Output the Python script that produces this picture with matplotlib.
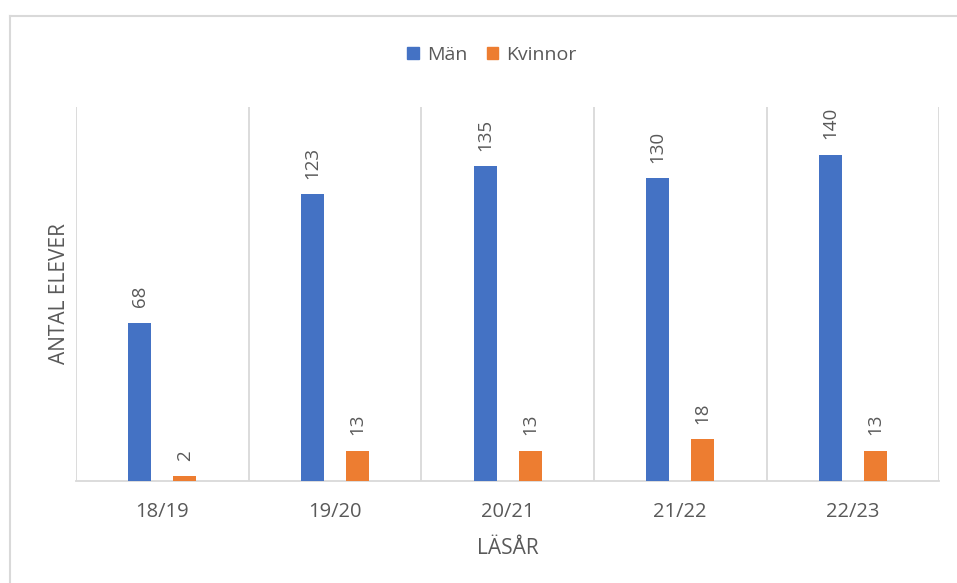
import matplotlib
matplotlib.use("Agg")
import matplotlib.pyplot as plt
from matplotlib.lines import Line2D
from matplotlib.patches import Patch
import numpy as np

categories = ["18/19", "19/20", "20/21", "21/22", "22/23"]
man = [68, 123, 135, 130, 140]
kvinnor = [2, 13, 13, 18, 13]
series_names = ["Män", "Kvinnor"]

plt.rcParams['font.family'] = ['Open Sans', 'DejaVu Sans']

blue = "#4472C4"
orange = "#ED7D31"
grid = "#D9D9D9"
txt = "#595959"

fig = plt.figure(figsize=(9.57, 5.83), dpi=100)
ax = fig.add_axes([0.0794, 0.175, 0.902, 0.6415])

x = np.arange(len(categories))
w = 0.133
off = 0.13
b1 = ax.bar(x - off, man, width=w, color=blue, zorder=3)
b2 = ax.bar(x + off, kvinnor, width=w, color=orange, zorder=3)

for bars, vals in ((b1, man), (b2, kvinnor)):
    for r, v in zip(bars, vals):
        ax.annotate(str(v), (r.get_x() + r.get_width() / 2, r.get_height()),
                    xytext=(0, 11), textcoords="offset points",
                    rotation=90, ha="center", va="bottom",
                    color=txt, fontsize=13.5)

ax.set_xlim(-0.5, len(categories) - 0.5)
ax.set_ylim(0, 160.5)
for b in np.arange(-0.5, len(categories), 1.0):
    ax.axvline(b, color=grid, lw=1.3, zorder=1)

for s in ["top", "right", "left"]:
    ax.spines[s].set_visible(False)
ax.spines["bottom"].set_color(grid)
ax.spines["bottom"].set_linewidth(1.3)
ax.set_yticks([])
ax.set_xticks(x)
ax.set_xticklabels(categories, fontsize=14.5, color=txt)
ax.tick_params(axis="x", length=0, pad=15)

ax.set_xlabel("LÄSÅR", fontsize=15, color=txt, labelpad=12)
ax.set_ylabel("ANTAL ELEVER", fontsize=15, color=txt, labelpad=4)

handles = [Patch(color=blue), Patch(color=orange)]
fig.legend(handles, series_names, loc="center", bbox_to_anchor=(0.514, 0.906),
           ncol=2, frameon=False, fontsize=14, labelcolor=txt,
           handlelength=0.6, handleheight=0.6, handletextpad=0.4,
           columnspacing=1.0)

# chart-area border (left and top edges visible)
fig.add_artist(Line2D([9.5 / 957, 9.5 / 957], [0, 1 - 16 / 583], color=grid, lw=1.5,
                      transform=fig.transFigure))
fig.add_artist(Line2D([9.5 / 957, 1], [1 - 16 / 583, 1 - 16 / 583], color=grid, lw=1.5,
                      transform=fig.transFigure))

fig.savefig("out.png", dpi=100)
